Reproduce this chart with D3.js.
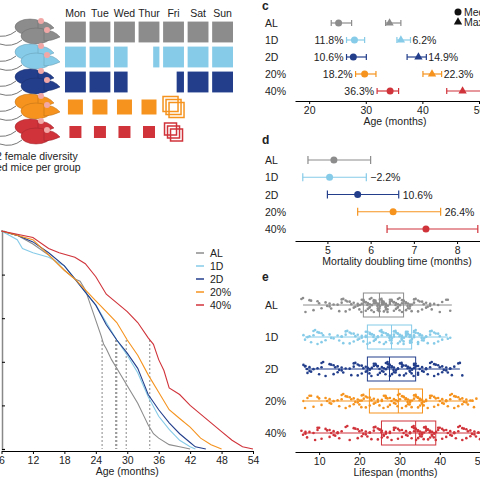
<!DOCTYPE html>
<html><head><meta charset="utf-8">
<script src="https://cdn.jsdelivr.net/npm/d3@7"></script>
<style>body{margin:0}svg{font-family:"Liberation Sans",Arial,sans-serif}</style>
</head><body>
<svg id="fig" width="480" height="480"></svg>
<script>
var groups = ['AL', '1D', '2D', '20%', '40%'];
var colors = ['#8c8c8c', '#86cbe8', '#233f8c', '#f5931e', '#d0333a'];
var days = ['Mon', 'Tue', 'Wed', 'Thur', 'Fri', 'Sat', 'Sun'];
// fraction of the day with food access, per group (0 = fasted)
var feedAL = [1, 1, 1, 1, 1, 1, 1];
var feed1D = [1, 1, 0.65, -0.3, 1, 1, 1];
var feed2D = [1, 1, 0.65, 0, -0.35, 1, 1];

// survival curves: [age, % alive]
var survAL = [[6,100],[9,98],[12,94],[15,89],[18,82],[20,78],[21,77],[22,73],[23,66],[24,59],[25,52],[25.5,48],[26,46],[27,41],[28,37],[29,33],[30,29],[31,25],[32,21],[33,16],[34,11],[35,7],[36,5],[38,2],[40,1],[42,0]];
var surv1D = [[6,100],[9,96],[10,92],[12,90],[15,88],[18,84],[20,78],[22,72],[24,66],[26,58],[28,50],[30,43],[32,35],[34,24],[36,15],[38,9],[40,4],[42,1],[43,0]];
var surv2D = [[6,100],[9,98],[12,95],[15,90],[18,84],[20,78],[22,72],[24,66],[26,57],[28,50],[30,44],[32,37],[33,31],[34,25],[36,18],[38,12],[40,7],[42,3],[43,1],[45,0]];
var surv20 = [[6,100],[12,96],[15,89],[18,82],[20,78],[22,73],[24,68],[26,63],[28,58],[30,50],[32,43],[34,34],[36,26],[38,18],[40,14],[42,10],[44,5],[46,2],[48,0]];
var surv40 = [[6,100],[12,97],[15,92],[17,90],[20,88],[22,85],[24,79],[26,71],[28,67],[30,63],[32,58],[34,51],[35,48],[36,41],[37,36],[38,28],[40,25],[42,20],[44,16],[46,12],[48,8],[50,4],[52,1],[54,0]];
var medians = [25.2, 28, 27.8, 29.8, 34.3];

// panel c: median and max lifespan [lo, est, hi]
var medCI = [[23.9,25.2,27.5],[26.6,28,29.8],[26.6,27.8,30.1],[28.2,29.8,31.8],[32,34.3,35.8]];
var maxCI = [[33.5,34.2,36.2],[35.5,36.2,37.9],[37.3,39.3,40.7],[40.1,41.7,43.4],[44.3,47.1,50.5]];
var medPct = ['', '11.8%', '10.6%', '18.2%', '36.3%'];
var maxPct = ['', '6.2%', '14.9%', '22.3%', ''];

// panel d: mortality doubling time
var mdtCI = [[4.55,5.15,6.0],[4.43,5.05,5.9],[5.0,5.7,6.65],[5.7,6.52,7.62],[6.38,7.28,8.48]];
var mdtPct = ['', '\u22122.2%', '10.6%', '26.4%', ''];

// panel e: box stats [min, q1, med, q3, max] and individual lifespans
var boxes = [[6,21,25,31,43],[6.5,22,28,33,42],[6.5,22,27.5,34,45],[6.5,22.5,29.7,35.7,48.5],[6,25.5,34,39,52]];
var lifeAL = [6,8,10,12,13,15,16,17,18,19,20,20.5,21,21.5,22,22.5,23,23,24,24,24.5,25,25,25.5,26,26,26.5,27,27,28,28.5,29,29.5,30,30,31,31.5,32,32.5,33,34,35,36,37,38,40,42];
var life1D = [6.5,8,9,10,11,13,15,16,17,18,19,20,21,22,22,23,23.5,24,25,25.5,26,27,27.5,28,28,29,29.5,30,30.5,31,31,32,32,32.5,33,33,34,34,35,35.5,36,37,38,39,40,42];
var life2D = [6.5,7,8,10,11,13,14,15,16,18,19,20,21,22,22.5,23,24,24.5,25,26,26.5,27,27.5,28,28.5,29,30,30.5,31,32,32.5,33,33.5,34,34,35,36,37,38,39,40,41,42,43,45];
var life20 = [6.5,8,10,12,13,15,16,17,18,19,20,20.5,21,22,23,24,25,26,26.5,27,28,29,29.5,30,31,31.5,32,32.5,33,34,34.5,35,35.5,36,37,38,39,40,41,42,43,44,45,46,47,48.5];
var life40 = [6,7,9,10,12,13,14,15,17,19,20,21,22,23,24,25,25.5,26,27,28,29,30,31,32,33,33.5,34,34.5,35,35.5,36,36.5,37,37.5,38,38.5,39,40,41,42,43,44,45,46,47,48,49,50,51,52];
var lives = [lifeAL, life1D, life2D, life20, life40];

var svg = d3.select('#fig');
var ink = '#222';

// ---------- panel a ----------
var dayX = d3.scaleBand().domain(days).range([65, 233]).paddingInner(0.15);
svg.selectAll('.day').data(days).join('text')
    .attr('x', function(d) { return dayX(d) + dayX.bandwidth() / 2; })
    .attr('y', 17).attr('text-anchor', 'middle').attr('font-size', 10.5).attr('fill', ink)
    .text(function(d) { return d; });
var rowY = [32, 57, 82, 107, 132];
var feeds = [feedAL, feed1D, feed2D];
var bw = dayX.bandwidth();
feeds.forEach(function(f, g) {
  f.forEach(function(v, i) {
    if (v === 0) return;
    var w = Math.abs(v) * bw;
    var x = v < 0 ? dayX(days[i]) + bw - w : dayX(days[i]);
    svg.append('rect').attr('x', x).attr('y', rowY[g] - bw / 2).attr('width', w).attr('height', bw)
        .attr('fill', colors[g]);
  });
});
[3, 4].forEach(function(g) {
  var s = g === 3 ? 15 : 12;
  days.slice(0, 4).forEach(function(d) {
    svg.append('rect').attr('x', dayX(d) + (bw - s) / 2).attr('y', rowY[g] - s / 2)
        .attr('width', s).attr('height', s).attr('fill', colors[g]);
  });
  [0, 3, 6].forEach(function(o) {
    svg.append('rect').attr('x', dayX('Fri') + (bw - s) / 2 - 3 + o).attr('y', rowY[g] - s / 2 - 3 + o)
        .attr('width', s).attr('height', s).attr('fill', 'none')
        .attr('stroke', colors[g]).attr('stroke-width', 1.5);
  });
});
// simple mice
rowY.forEach(function(y, g) {
  [[30, -5], [36, 4]].forEach(function(p) {
    var m = svg.append('g').attr('transform', 'translate(' + p[0] + ',' + (y + p[1]) + ')');
    m.append('path').attr('d', 'M-14,4 Q-24,12 -36,8').attr('stroke', '#777').attr('fill', 'none');
    m.append('ellipse').attr('rx', 15).attr('ry', 8).attr('fill', colors[g]).attr('stroke', d3.color(colors[g]).darker(0.8)).attr('stroke-width', 0.5);
    m.append('path').attr('d', 'M8,-6 Q18,-6 24,1 Q16,5 8,5 Z').attr('fill', colors[g]).attr('stroke', d3.color(colors[g]).darker(0.8)).attr('stroke-width', 0.5);
    m.append('circle').attr('cx', 11).attr('cy', -6).attr('r', 3).attr('fill', '#f2a7a7');
  });
});
svg.append('text').attr('x', -4).attr('y', 160).attr('font-size', 10.5).attr('fill', ink).text('2 female diversity');
svg.append('text').attr('x', -4).attr('y', 171).attr('font-size', 10.5).attr('fill', ink).text('ed mice per group');

// ---------- panel b: survival ----------
var sx = d3.scaleLinear().domain([6, 54]).range([1.5, 253]);
var sy = d3.scaleLinear().domain([0, 100]).range([449, 231]);
var gb = svg.append('g');
gb.append('g').attr('transform', 'translate(0,451)')
  .call(d3.axisBottom(sx).tickValues(d3.range(6, 55, 6)).tickSize(3).tickSizeOuter(0))
  .call(function(a) { a.selectAll('text').attr('font-size', 10.5).attr('fill', ink); a.select('.domain').attr('stroke-width', 1.2); });
gb.append('g').attr('transform', 'translate(2,0)')
  .call(d3.axisLeft(sy).tickValues(d3.range(0, 101, 20)).tickSize(-3).tickFormat(''))
  .call(function(a) { a.select('.domain').attr('stroke', '#888').attr('stroke-width', 1.5); });
gb.append('text').attr('x', sx(30)).attr('y', 475).attr('text-anchor', 'middle').attr('font-size', 10.5).attr('fill', ink).text('Age (months)');
medians.forEach(function(m) {
  gb.append('line').attr('x1', sx(m)).attr('x2', sx(m)).attr('y1', sy(50)).attr('y2', sy(0))
      .attr('stroke', '#555').attr('stroke-width', 0.7).attr('stroke-dasharray', '2,2');
});
var line = d3.line().x(function(d) { return sx(d[0]); }).y(function(d) { return sy(d[1]); });
[survAL, surv1D, surv2D, surv20, surv40].forEach(function(s, g) {
  gb.append('path').attr('d', line(s)).attr('fill', 'none').attr('stroke', colors[g]).attr('stroke-width', 1.1);
});
groups.forEach(function(n, g) {
  var y = 253 + g * 13;
  gb.append('line').attr('x1', 196).attr('x2', 204).attr('y1', y).attr('y2', y).attr('stroke', colors[g]).attr('stroke-width', 1.5);
  gb.append('text').attr('x', 210).attr('y', y + 4).attr('font-size', 10.5).attr('fill', ink).text(n);
});

// ---------- shared helpers ----------
function label(t, x, y) {
  svg.append('text').attr('x', x).attr('y', y).attr('font-size', 12).attr('font-weight', 'bold').attr('fill', ink).text(t);
}
function rowLabels(ys, x) {
  groups.forEach(function(n, g) {
    svg.append('text').attr('x', x).attr('y', ys(n) + 4).attr('font-size', 10.5).attr('fill', ink).text(n);
  });
}
function errBar(sc, y, ci, col, cap) {
  svg.append('line').attr('x1', sc(ci[0])).attr('x2', sc(ci[2])).attr('y1', y).attr('y2', y).attr('stroke', col).attr('stroke-width', 1.2);
  [ci[0], ci[2]].forEach(function(v) {
    svg.append('line').attr('x1', sc(v)).attr('x2', sc(v)).attr('y1', y - cap).attr('y2', y + cap).attr('stroke', col).attr('stroke-width', 1.2);
  });
}
function bottomAxis(sc, y, ticks, title) {
  svg.append('g').attr('transform', 'translate(0,' + y + ')')
    .call(d3.axisBottom(sc).tickValues(ticks).tickSize(3).tickSizeOuter(0).tickFormat(d3.format('d')))
    .call(function(a) { a.selectAll('text').attr('font-size', 10.5).attr('fill', ink); a.select('.domain').attr('stroke-width', 1.2); });
  svg.append('text').attr('x', (sc.range()[0] + sc.range()[1]) / 2 + 8).attr('y', y + 24).attr('text-anchor', 'middle').attr('font-size', 10.5).attr('fill', ink).text(title);
}

// ---------- panel c ----------
label('c', 262, 10);
var cx = d3.scaleLinear().domain([17.5, 50]).range([295, 479]);
var cy = d3.scalePoint().domain(groups).range([23, 91]);
rowLabels(cy, 265);
groups.forEach(function(n, g) {
  var y = cy(n);
  errBar(cx, y, medCI[g], colors[g], 3);
  errBar(cx, y, maxCI[g], colors[g], 3);
  svg.append('circle').attr('cx', cx(medCI[g][1])).attr('cy', y).attr('r', 3.5).attr('fill', colors[g]);
  svg.append('path').attr('d', d3.symbol(d3.symbolTriangle, 30)()).attr('transform', 'translate(' + cx(maxCI[g][1]) + ',' + y + ')').attr('fill', colors[g]);
  svg.append('text').attr('x', cx(medCI[g][0]) - 3).attr('y', y + 4).attr('text-anchor', 'end').attr('font-size', 10.5).attr('fill', ink).text(medPct[g]);
  svg.append('text').attr('x', cx(maxCI[g][2]) + 2).attr('y', y + 4).attr('font-size', 10.5).attr('fill', ink).text(maxPct[g]);
});
bottomAxis(cx, 101, [20, 30, 40, 50], 'Age (months)');
svg.append('circle').attr('cx', 458).attr('cy', 12).attr('r', 3.5).attr('fill', '#111');
svg.append('text').attr('x', 464).attr('y', 16).attr('font-size', 10.5).attr('fill', ink).text('Median');
svg.append('path').attr('d', d3.symbol(d3.symbolTriangle, 30)()).attr('transform', 'translate(458,22)').attr('fill', '#111');
svg.append('text').attr('x', 464).attr('y', 26).attr('font-size', 10.5).attr('fill', ink).text('Maximum');

// ---------- panel d ----------
label('d', 262, 144);
var dx = d3.scaleLinear().domain([4.25, 8.6]).range([295, 483]);
var dy = d3.scalePoint().domain(groups).range([160, 229]);
rowLabels(dy, 265);
groups.forEach(function(n, g) {
  var y = dy(n);
  errBar(dx, y, mdtCI[g], colors[g], 4);
  svg.append('circle').attr('cx', dx(mdtCI[g][1])).attr('cy', y).attr('r', 3.5).attr('fill', colors[g]);
  svg.append('text').attr('x', dx(mdtCI[g][2]) + 4).attr('y', y + 4).attr('font-size', 10.5).attr('fill', ink).text(mdtPct[g]);
});
bottomAxis(dx, 241, [5, 6, 7, 8], 'Mortality doubling time (months)');

// ---------- panel e ----------
label('e', 262, 281);
var ex = d3.scaleLinear().domain([4, 50]).range([295, 480]);
var ey = d3.scalePoint().domain(groups).range([305, 433]);
rowLabels(ey, 265);
groups.forEach(function(n, g) {
  var y = ey(n), b = boxes[g], h = 12;
  svg.append('line').attr('x1', ex(b[0])).attr('x2', ex(b[4])).attr('y1', y).attr('y2', y).attr('stroke', colors[g]).attr('stroke-width', 1);
  svg.append('rect').attr('x', ex(b[1])).attr('y', y - h).attr('width', ex(b[3]) - ex(b[1])).attr('height', 2 * h)
      .attr('fill', 'none').attr('stroke', colors[g]).attr('stroke-width', 1);
  svg.append('line').attr('x1', ex(b[2])).attr('x2', ex(b[2])).attr('y1', y - h).attr('y2', y + h).attr('stroke', colors[g]).attr('stroke-width', 1);
  lives[g].forEach(function(v, i) {
    var jit = ((i * 37 + g * 11) % 17) / 16 - 0.5;
    svg.append('circle').attr('cx', ex(v)).attr('cy', y + jit * 14).attr('r', 1.3).attr('fill', colors[g]);
    svg.append('circle').attr('cx', ex(v + 0.6)).attr('cy', y - jit * 10 + 2).attr('r', 1.3).attr('fill', colors[g]);
    svg.append('circle').attr('cx', ex(v - 0.4)).attr('cy', y + jit * 6 - 3).attr('r', 1.3).attr('fill', colors[g]);
  });
});
bottomAxis(ex, 452, [10, 20, 30, 40, 50], 'Lifespan (months)');
</script>
</body></html>
